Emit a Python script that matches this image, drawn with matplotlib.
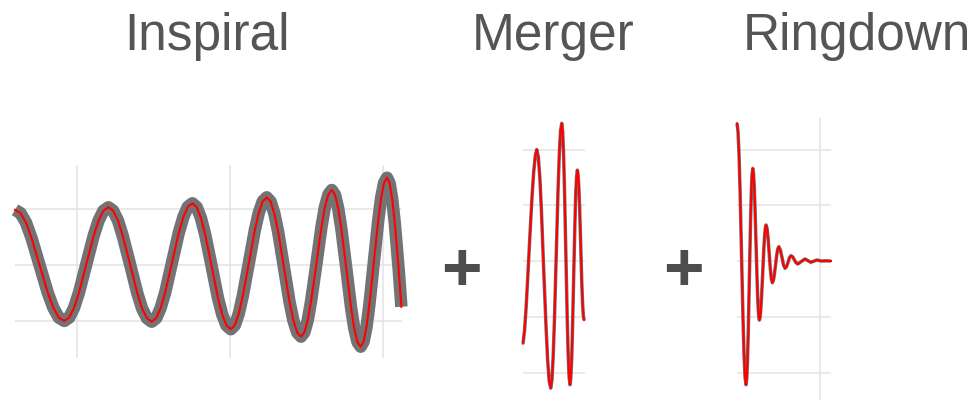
import matplotlib
matplotlib.use('Agg')
import matplotlib.pyplot as plt

# inspiral: time and strain samples
inspiralTime = [0.093, 0.129, 0.165, 0.200, 0.254, 0.308, 0.344, 0.379, 0.415,
                0.447, 0.479, 0.511, 0.559, 0.607, 0.639, 0.671, 0.703,
                0.734, 0.766, 0.797, 0.845, 0.892, 0.923, 0.955, 0.986,
                1.016, 1.045, 1.075, 1.119, 1.163, 1.193, 1.222, 1.252,
                1.280, 1.308, 1.336, 1.378, 1.419, 1.447, 1.475, 1.503,
                1.529, 1.555, 1.581, 1.621, 1.660, 1.686, 1.712, 1.738,
                1.763, 1.788, 1.813, 1.850, 1.887, 1.912, 1.937, 1.962,
                1.984, 2.007, 2.029, 2.063, 2.096, 2.118, 2.141, 2.163,
                2.184, 2.205, 2.226, 2.258, 2.289, 2.310, 2.331, 2.352,
                2.371, 2.390, 2.409, 2.438, 2.467, 2.486, 2.505, 2.524,
                2.541, 2.558, 2.575, 2.600, 2.618]
inspiralStrain = [0.990, 0.930, 0.757, 0.491, -0.008, -0.506, -0.772, -0.945, -1.005,
                  -0.944, -0.766, -0.495, 0.016, 0.526, 0.797, 0.975, 1.036,
                  0.974, 0.796, 0.522, 0.009, -0.505, -0.778, -0.956, -1.018,
                  -0.954, -0.769, -0.486, 0.045, 0.577, 0.859, 1.044, 1.108,
                  1.040, 0.843, 0.542, -0.023, -0.589, -0.889, -1.086, -1.154,
                  -1.083, -0.877, -0.562, 0.031, 0.623, 0.938, 1.144, 1.215,
                  1.140, 0.922, 0.589, -0.036, -0.662, -0.994, -1.212, -1.287,
                  -1.208, -0.979, -0.629, 0.030, 0.688, 1.038, 1.267, 1.346,
                  1.262, 1.017, 0.643, -0.061, -0.764, -1.138, -1.383, -1.467,
                  -1.376, -1.112, -0.708, 0.050, 0.809, 1.212, 1.476, 1.567,
                  1.469, 1.184, 0.749, -0.068, -0.750]

# merger
mergerTime = [0.000, 0.010, 0.020, 0.030, 0.045, 0.060, 0.070, 0.080, 0.0895,
              0.0997, 0.110, 0.120, 0.135, 0.151, 0.161, 0.171, 0.181,
              0.189, 0.197, 0.205, 0.217, 0.229, 0.237, 0.245, 0.253,
              0.259, 0.265, 0.271, 0.280, 0.289, 0.295, 0.301, 0.307,
              0.312, 0.318, 0.323, 0.331, 0.339, 0.344, 0.350, 0.355,
              0.360, 0.365, 0.370, 0.377, 0.384, 0.389, 0.394, 0.399]
mergerStrain = [-1.480, -1.250, -0.850, -0.350, 0.450, 1.200, 1.600, 1.880, 2.000,
                1.872, 1.499, 0.930, -0.140, -1.210, -1.779, -2.152, -2.280,
                -2.137, -1.724, -1.092, 0.095, 1.283, 1.914, 2.328, 2.470,
                2.329, 1.921, 1.297, 0.125, -1.048, -1.671, -2.079, -2.220,
                -2.104, -1.770, -1.257, -0.295, 0.668, 1.180, 1.515, 1.630,
                1.549, 1.315, 0.957, 0.285, -0.388, -0.745, -0.979, -1.060]

# ringdown
ringdownTime = [0.000, 0.0065, 0.0131, 0.0197, 0.0295, 0.0393, 0.0459, 0.0524, 0.059,
                0.0639, 0.0688, 0.0737, 0.081, 0.0883, 0.0932, 0.0981, 0.103,
                0.1078, 0.1125, 0.1173, 0.1245, 0.1317, 0.1364, 0.1412, 0.146,
                0.1509, 0.1558, 0.1607, 0.168, 0.1753, 0.1802, 0.1851, 0.190,
                0.1968, 0.2037, 0.2105, 0.2173, 0.2242, 0.231,
                0.238, 0.245, 0.252, 0.259, 0.266, 0.273,
                0.283, 0.294, 0.304, 0.314,
                0.324, 0.334, 0.343, 0.353,
                0.364, 0.375, 0.386, 0.397,
                0.420, 0.444, 0.463, 0.482, 0.502, 0.521,
                0.550, 0.580, 0.614]
ringdownStrain = [2.470, 2.329, 1.921, 1.297, 0.125, -1.048, -1.671, -2.079, -2.220,
                  -2.104, -1.766, -1.250, -0.280, 0.690, 1.206, 1.544, 1.660,
                  1.578, 1.342, 0.980, 0.300, -0.380, -0.742, -0.978, -1.060,
                  -1.009, -0.860, -0.633, -0.207, 0.220, 0.446, 0.595, 0.646,
                  0.577, 0.387, 0.129, -0.130, -0.320, -0.389,
                  -0.346, -0.228, -0.066, 0.096, 0.214, 0.257,
                  0.200, 0.063, -0.074, -0.131,
                  -0.098, -0.018, 0.062, 0.095,
                  0.073, 0.021, -0.032, -0.054,
                  -0.009, 0.036, 0.007, -0.023, -0.003, 0.018,
                  0.000, 0.003, 0.000]

titles = ['Inspiral', 'Merger', 'Ringdown']
titleX = [207, 553, 857]

gridColor = '#e3e3e3'
bandColor = '#737373'
textColor = '#555555'


def setupAxes(ax, xlim, ylim, xticks, yticks):
    ax.set_xlim(xlim)
    ax.set_ylim(ylim)
    ax.set_xticks(xticks)
    ax.set_yticks(yticks)
    ax.grid(True, color=gridColor, linewidth=1.1)
    ax.set_axisbelow(True)
    ax.tick_params(length=0, labelbottom=False, labelleft=False)
    for s in ax.spines.values():
        s.set_visible(False)
    ax.patch.set_alpha(0)


def drawWave(ax, t, h, bandWidth):
    # grey band underneath, red trace on top
    ax.plot(t, h, color=bandColor, linewidth=bandWidth, solid_capstyle='butt',
            solid_joinstyle='round', clip_on=False)
    ax.plot(t, h, color='#ff0000', linewidth=1.5, solid_joinstyle='round', clip_on=False)


def main():
    W, H = 975, 403
    fig = plt.figure(figsize=(W / 100, H / 100), dpi=100)

    ax1 = fig.add_axes([15 / W, 1 - 358 / H, 387 / W, 193 / H])
    setupAxes(ax1, (0.0928, 2.622), (-1.670, 1.795), [0.5, 1.5, 2.5], [-1, 0, 1])
    drawWave(ax1, inspiralTime, inspiralStrain, 9)

    ax2 = fig.add_axes([523 / W, 1 - 400 / H, 62 / W, 282 / H])
    setupAxes(ax2, (0, 0.405), (-2.493, 2.565), [], [-2, -1, 0, 1, 2])
    drawWave(ax2, mergerTime, mergerStrain, 2.5)

    ax3 = fig.add_axes([737 / W, 1 - 400 / H, 94 / W, 282 / H])
    setupAxes(ax3, (0, 0.614), (-2.493, 2.565), [0.542], [-2, -1, 0, 1, 2])
    drawWave(ax3, ringdownTime, ringdownStrain, 2.5)

    for name, x in zip(titles, titleX):
        fig.text(x / W, 1 - 50 / H, name, ha='center', va='baseline',
                 fontsize=37, color=textColor, family='Liberation Sans')

    for x in [461, 683]:
        fig.text(x / W, 1 - 272 / H, '+', ha='center', va='center',
                 fontsize=50, fontweight='bold', color='#4d4d4d', family='Liberation Sans')

    fig.savefig('out.png', dpi=100)


main()
